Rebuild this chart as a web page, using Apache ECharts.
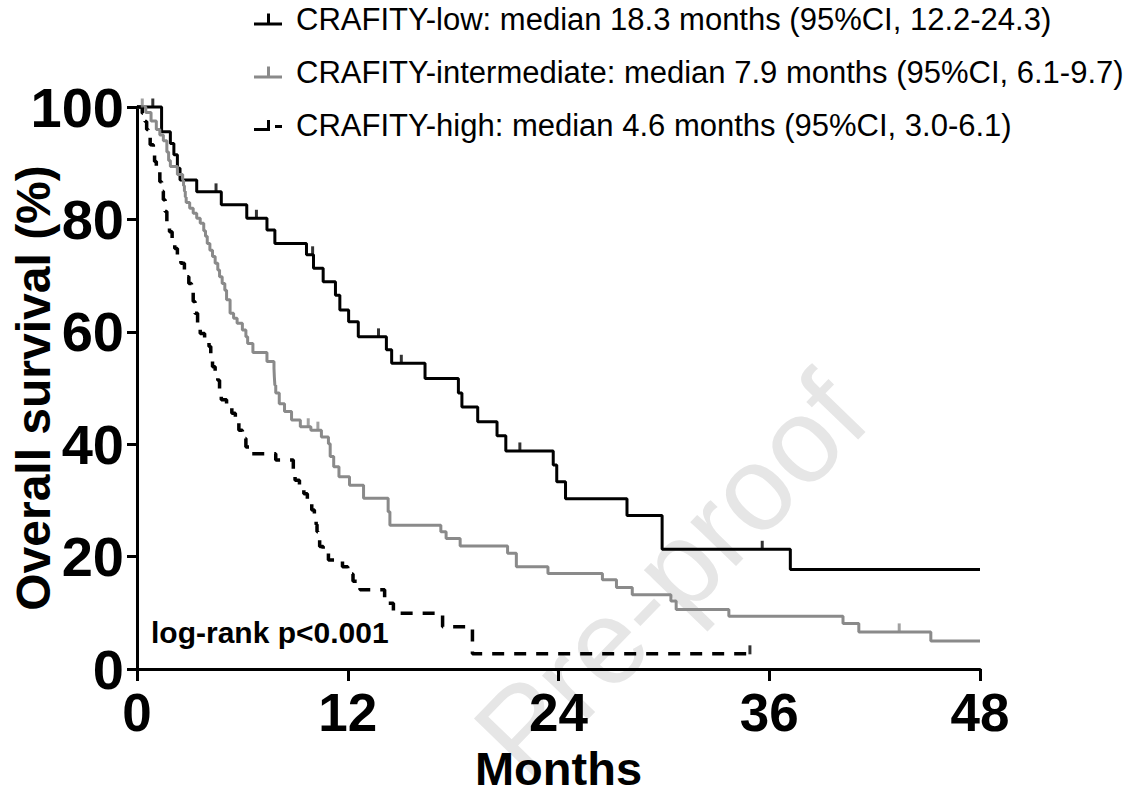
<!DOCTYPE html>
<html>
<head>
<meta charset="utf-8">
<title>Overall survival by CRAFITY score</title>
<script src="https://cdn.jsdelivr.net/npm/echarts@6.0.0/dist/echarts.min.js"></script>
<style>
  html, body { margin: 0; padding: 0; background: #fff; }
  #main { width: 1139px; height: 799px; }
</style>
</head>
<body>
<div id="main"></div>
<script>
// 分组名称（图例）
var groupNames = [
    'CRAFITY-low: median 18.3 months (95%CI, 12.2-24.3)',
    'CRAFITY-intermediate: median 7.9 months (95%CI, 6.1-9.7)',
    'CRAFITY-high: median 4.6 months (95%CI, 3.0-6.1)'
];
var xTicks = [0, 12, 24, 36, 48];
var yTicks = [0, 20, 40, 60, 80, 100];

// KM 曲线 [月, 生存率%]，按 step:'end' 画
var lowCurve = [[0,100],[1.4,95.6],[1.9,93.5],[2.1,91.5],[2.3,89.1],[2.45,87.0],[3.4,84.9],[4.8,82.6],
    [6.25,80.2],[7.4,78.1],[7.85,75.7],[9.65,73.7],[10.05,71.3],[10.6,68.9],[11.3,66.5],[11.55,63.9],
    [12.05,61.8],[12.6,59.1],[14.2,56.8],[14.5,54.4],[16.4,51.7],[18.3,49.1],[18.5,46.6],[19.4,44.0],
    [20.5,41.5],[21.0,38.8],[23.7,36.3],[23.9,33.3],[24.4,30.3],[27.9,27.3],[29.9,21.3],[37.2,17.7],[48,17.7]];
var lowCensor = [[0.9,100],[4.5,84.9],[6.8,80.2],[10.0,73.7],[13.75,59.1],[15.05,54.4],[21.8,38.8],[35.6,21.3]];

var midCurve = [[0,100],[0.5,99],[0.8,97.5],[1.1,96],[1.3,95],[1.5,94],[1.7,92],[1.8,90.5],[1.9,89.4],
    [2.3,88],[2.6,87],[2.65,86],[2.7,85],[2.75,84],[2.8,83],[3.0,82],[3.2,81.1],[3.4,80.2],[3.6,79.3],
    [3.8,78],[3.9,77],[4.0,75.7],[4.15,74.5],[4.3,73.4],[4.45,72.2],[4.6,71],[4.7,69.8],[4.85,68.6],
    [5.0,67.4],[5.1,65.7],[5.3,63.3],[5.5,62.4],[5.7,61.5],[6.0,60.3],[6.2,59.1],[6.3,57.9],[6.6,56.3],
    [7.4,54.7],[7.8,53.5],[7.82,52],[7.85,50.5],[7.9,49.1],[8.1,47.2],[8.4,45.8],[8.8,44.3],[9.3,43.1],
    [9.9,42.5],[10.5,41.3],[10.9,40.1],[11.0,37.8],[11.2,36],[11.5,34.2],[12.1,32.7],[12.9,30.4],
    [14.3,28],[14.4,25.6],[17.3,24.4],[17.6,23.2],[18.4,21.9],[21.1,20.6],[21.6,18.2],[23.4,17.0],
    [26.5,15.9],[27.3,14.5],[28.2,13.2],[30.4,12.1],[30.7,10.6],[33.7,9.4],[40.2,8.1],[41.1,6.6],
    [45.2,5.0],[48,5.0]];
var midCensor = [[0.3,100],[9.75,43.1],[10.3,42.5],[43.4,6.6]];

var highCurve = [[0,100],[0.3,98.9],[0.46,97.4],[0.55,96],[0.64,94.7],[0.75,93.3],[0.93,91.8],[1.0,90.3],
    [1.1,88.8],[1.3,86.7],[1.4,85],[1.5,83.5],[1.6,81.4],[1.7,79.3],[1.85,77.8],[2.0,76.3],[2.15,74.8],
    [2.3,73.4],[2.5,72.2],[2.7,71.0],[2.8,69.8],[2.95,68.6],[3.1,67.4],[3.2,65.4],[3.3,63.3],[3.45,61.5],
    [3.6,59.7],[3.85,58.5],[4.1,57.4],[4.2,55.6],[4.3,53.8],[4.45,52.6],[4.6,51.4],[4.7,49.6],[4.8,47.9],
    [5.1,46.7],[5.4,45.5],[5.6,44],[5.8,42.5],[6.0,41],[6.2,39.5],[6.5,38.3],[7.9,37.2],[8.9,35.4],
    [9.0,33.6],[9.25,32.3],[9.5,31.2],[9.7,29.8],[9.95,28.3],[10.1,27.0],[10.2,25.7],[10.25,24.4],
    [10.3,23.1],[10.4,21.8],[10.6,20.6],[10.9,19.4],[11.7,18.2],[12.0,16.9],[12.3,15.6],[12.7,14.1],
    [14.1,11.7],[14.6,9.9],[17.4,7.5],[19.1,2.7],[34.9,2.7]];
var highCensor = [[34.9,2.7]];

var grayColor = '#8a8a8a';
var baseFont = '"Liberation Sans", Arial, sans-serif';

// 图例小图标
var tickIcon = 'path://M0,9 L28,9 L28,12 L0,12 Z M13,0 L16,0 L16,9 L13,9 Z';
var dashIcon = 'path://M0,9 L13,9 L13,12 L0,12 Z M13,1 L16,1 L16,12 L13,12 Z M21,6 L28,6 L28,9 L21,9 Z';

var chart = echarts.init(document.getElementById('main'), null, { renderer: 'svg' });

function curveSeries(name, data, color, dashed) {
    return {
        name: name,
        type: 'line',
        step: 'end',
        data: data,
        showSymbol: false,
        symbol: 'none',
        clip: false,
        color: color,
        lineStyle: { color: color, width: dashed ? 3.5 : 3, type: dashed ? [12, 10] : 'solid' },
        emphasis: { disabled: true },
        z: 3
    };
}
function censorSeries(name, data, color) {
    return {
        name: name,
        type: 'scatter',
        data: data,
        symbol: 'rect',
        symbolSize: [3, 9],
        symbolOffset: [0, -4],
        color: color,
        itemStyle: { color: color },
        silent: true,
        clip: false,
        z: 4
    };
}

var option = {
    animation: false,
    backgroundColor: '#fff',
    textStyle: { fontFamily: baseFont, color: '#000' },
    legend: {
        orient: 'vertical',
        left: 254,
        top: 4,
        padding: 0,
        itemWidth: 28,
        itemHeight: 12,
        itemGap: 22,
        selectedMode: false,
        itemStyle: { borderWidth: 0, borderColor: 'transparent' },
        textStyle: { fontSize: 31, color: '#000', fontFamily: baseFont, padding: [0, 0, 0, 9] },
        data: [
            { name: groupNames[0], icon: tickIcon },
            { name: groupNames[1], icon: tickIcon },
            { name: groupNames[2], icon: dashIcon }
        ]
    },
    grid: {
        left: 137,
        right: 159,
        top: 107,
        bottom: 130,
        containLabel: false,
        outerBoundsMode: 'none'
    },
    xAxis: {
        type: 'value',
        min: xTicks[0],
        max: xTicks[xTicks.length - 1],
        interval: 12,
        name: 'Months',
        nameLocation: 'middle',
        nameGap: 76,
        nameMoveOverlap: false,
        nameTextStyle: { fontSize: 47, fontWeight: 'bold', color: '#000' },
        axisLine: { show: true, onZero: false, lineStyle: { color: '#000', width: 3 } },
        axisTick: { show: true, length: 12, lineStyle: { color: '#000', width: 3 } },
        axisLabel: { fontSize: 53, fontWeight: 'bold', color: '#000', margin: 17 },
        splitLine: { show: false }
    },
    yAxis: {
        type: 'value',
        min: yTicks[0],
        max: yTicks[yTicks.length - 1],
        interval: 20,
        name: 'Overall survival (%)',
        nameLocation: 'middle',
        nameGap: 80,
        nameMoveOverlap: false,
        nameTextStyle: { fontSize: 48, fontWeight: 'bold', color: '#000' },
        axisLine: { show: true, onZero: false, lineStyle: { color: '#000', width: 3 } },
        axisTick: { show: true, length: 10, lineStyle: { color: '#000', width: 3 } },
        axisLabel: { fontSize: 56, fontWeight: 'bold', color: '#000', margin: 13 },
        splitLine: { show: false }
    },
    graphic: [
        {
            // 水印
            type: 'text',
            x: 670,
            y: 574,
            rotation: 46 * Math.PI / 180,
            z: 0,
            silent: true,
            style: {
                text: 'Pre-proof',
                fontSize: 120,
                fontFamily: baseFont,
                fill: '#e6e6e6',
                align: 'center',
                verticalAlign: 'middle'
            }
        },
        {
            type: 'text',
            left: 151,
            top: 617,
            z: 10,
            style: {
                text: 'log-rank p<0.001',
                fontSize: 30,
                fontWeight: 'bold',
                fontFamily: baseFont,
                fill: '#000'
            }
        }
    ],
    series: [
        curveSeries(groupNames[0], lowCurve, '#000', false),
        curveSeries(groupNames[1], midCurve, grayColor, false),
        curveSeries(groupNames[2], highCurve, '#000', true),
        censorSeries(groupNames[0], lowCensor, '#000'),
        censorSeries(groupNames[1], midCensor, grayColor),
        censorSeries(groupNames[2], highCensor, '#000')
    ]
};

chart.setOption(option);
</script>
</body>
</html>
